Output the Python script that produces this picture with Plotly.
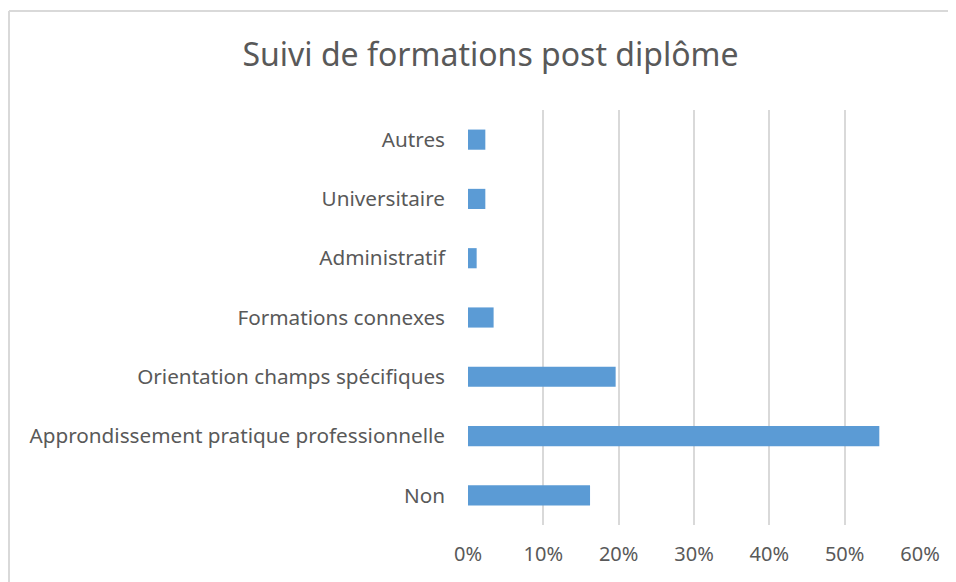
import plotly.graph_objects as go

categories = [
    "Non",
    "Approndissement pratique professionnelle",
    "Orientation champs spécifiques",
    "Formations connexes",
    "Administratif",
    "Universitaire",
    "Autres",
]
values = [0.162, 0.546, 0.196, 0.034, 0.0115, 0.023, 0.023]
tick_vals = [0, 0.1, 0.2, 0.3, 0.4, 0.5, 0.6]
tick_text = ["0%", "10%", "20%", "30%", "40%", "50%", "60%"]

OFF = 8  # default page body margin
W, H = 956 - OFF, 582 - OFF
# plot area in page pixels: x 468..920, y 110..525
L, R, T, B = 468 - OFF, 956 - 920, 110 - OFF, 582 - 525
pw, ph = W - L - R, H - T - B

fig = go.Figure(go.Bar(
    x=values, y=categories, orientation="h",
    marker=dict(color="#5b9bd5", line=dict(width=0)),
))

def px_x(p):
    return (p - OFF - L) / pw

def px_y(p):
    return (H - B - (p - OFF)) / ph

fig.update_layout(
    width=W, height=H,
    margin=dict(l=L, r=R, t=T, b=B),
    paper_bgcolor="white", plot_bgcolor="white",
    bargap=0.66,
    showlegend=False,
    font=dict(family="Noto Sans", color="#595959"),
    title=dict(text="Suivi de formations post diplôme", x=(490.5 - OFF) / W, xanchor="center",
               y=1 - (55 - OFF) / H, yanchor="middle", yref="container",
               font=dict(size=32, color="#595959", family="Noto Sans")),
    xaxis=dict(range=[0, 0.6], tickvals=tick_vals, ticktext=tick_text,
               showgrid=True, gridcolor="#d9d9d9", gridwidth=2, zeroline=False,
               showline=False, tickfont=dict(size=20, color="#595959"),
               ticklabelstandoff=15, fixedrange=True),
    yaxis=dict(showgrid=False, zeroline=False, showline=False,
               tickfont=dict(size=20.7, color="#595959"), ticklabelstandoff=22,
               range=[-0.5, 6.5]),
    shapes=[
        dict(type="line", xref="paper", yref="paper",
             x0=px_x(9), x1=px_x(9), y0=px_y(11), y1=px_y(600),
             line=dict(color="#d9d9d9", width=2)),
        dict(type="line", xref="paper", yref="paper",
             x0=px_x(9), x1=px_x(970), y0=px_y(11), y1=px_y(11),
             line=dict(color="#d9d9d9", width=2)),
    ],
)

fig.write_html("out.html")
